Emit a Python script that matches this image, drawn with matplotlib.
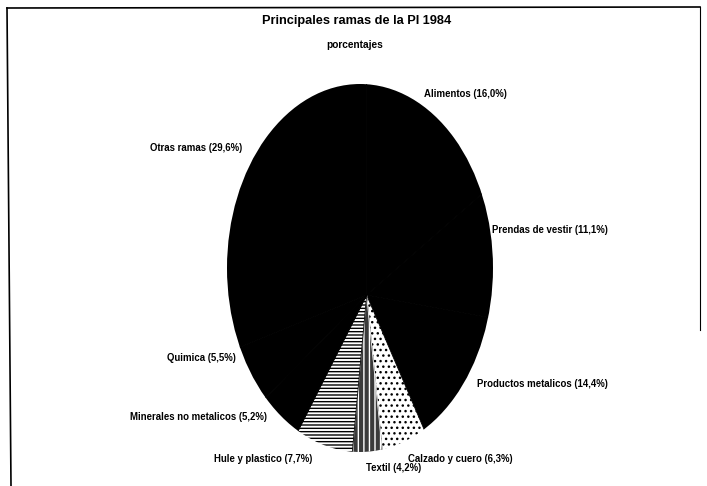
import matplotlib
matplotlib.use("Agg")
import matplotlib.pyplot as plt
from matplotlib.lines import Line2D
from matplotlib.patches import Ellipse

plt.rcParams['font.family'] = ['Liberation Sans Narrow', 'Liberation Sans', 'DejaVu Sans']
plt.rcParams['hatch.linewidth'] = 1.0

categories = ["Alimentos", "Prendas de vestir", "Productos metalicos", "Calzado y cuero",
              "Textil", "Hule y plastico", "Minerales no metalicos", "Quimica", "Otras ramas"]
values = [16.0, 11.1, 14.4, 6.3, 4.2, 7.7, 5.2, 5.5, 29.6]
title = "Principales ramas de la PI 1984"
subtitle = "porcentajes"

faces = ["black", "black", "black", "white", "#3a3a3a", "white", "black", "black", "black"]
hatches = [None, None, None, "...", "|||", "-----", None, None, None]
edges = ["black", "black", "black", "black", "white", "black", "black", "black", "black"]

# label anchor positions in figure pixels (left edge, vertical center)
label_pos = [(424, 94), (492, 230), (477, 384), (408, 459), (366, 468),
             (214, 459), (130, 417), (167, 358), (150, 148)]

W, H = 707, 486
fig = plt.figure(figsize=(W / 100, H / 100), dpi=100)
fig.patch.set_facecolor("white")

# elliptical pie area (pixels)
x0, x1 = 227, 493
y0, y1 = 84, 452
ax = fig.add_axes([x0 / W, 1 - y1 / H, (x1 - x0) / W, (y1 - y0) / H])
ax.set_xlim(-1, 1)
ax.set_ylim(-1, 1)
# wedge apex sits a little below the centre of the outline, as in the scan
apex = (0.05, -0.147)
wedges, _ = ax.pie(values, startangle=90, counterclock=False, radius=3, center=apex,
                   colors=faces, wedgeprops=dict(linewidth=0.6))
ax.set_aspect("auto")
ax.set_xlim(-1, 1)
ax.set_ylim(-1, 1)
outline = Ellipse((0, 0), 2, 2, transform=ax.transData)
for w, h, e in zip(wedges, hatches, edges):
    w.set_edgecolor(e)
    if h:
        w.set_hatch(h)
    w.set_clip_on(True)
    w.set_clip_path(outline)
ax.axis("off")

for cat, v, (px, py) in zip(categories, values, label_pos):
    txt = f"{cat} ({v:.1f}%)".replace(".", ",")
    fig.text(px / W, 1 - py / H, txt, ha="left", va="center", fontsize=6.9,
             fontweight="bold", color="black")

fig.text(357 / W, 1 - 21 / H, title, ha="center", va="center", fontsize=9.2,
         fontweight="bold")
fig.text(355 / W, 1 - 45 / H, subtitle, ha="center", va="center", fontsize=7.3,
         fontweight="bold")

# scanned frame
fig.add_artist(Line2D([7 / W, 700 / W], [1 - 8 / H, 1 - 7 / H], color="black", lw=1.2))
fig.add_artist(Line2D([7 / W, 11 / W], [1 - 8 / H, 0], color="black", lw=1.2))
fig.add_artist(Line2D([700 / W, 700 / W], [1 - 7 / H, 1 - 330 / H], color="black", lw=0.8))

fig.savefig("out.png", dpi=100, facecolor="white")
